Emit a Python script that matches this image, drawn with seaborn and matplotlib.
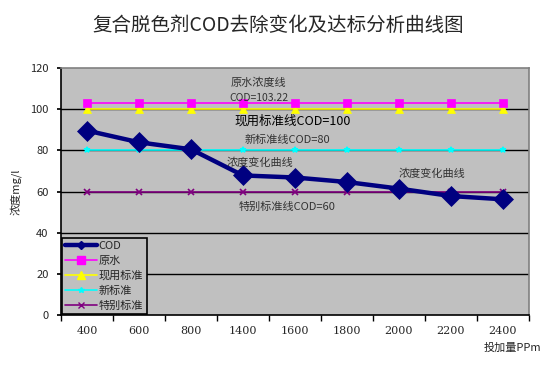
import numpy as np
import pandas as pd
import seaborn as sns
import matplotlib.pyplot as plt
from matplotlib.lines import Line2D

# data
doses = ["400", "600", "800", "1400", "1600", "1800", "2000", "2200", "2400"]
cod = [89.6, 83.9, 80.5, 67.8, 66.8, 64.6, 61.4, 57.8, 56.2]
raw_water = [103.22] * 9
current_std = [100] * 9
new_std = [80] * 9
special_std = [60] * 9

series_names = ["COD", "原水", "现用标准", "新标准", "特别标准"]
series_values = [cod, raw_water, current_std, new_std, special_std]

sns.set_theme(style="white")
plt.rcParams['font.family'] = ['Noto Sans CJK SC', 'DejaVu Sans']
plt.rcParams['axes.unicode_minus'] = False

# style per series: color, marker, markersize, linewidth
styles = {
    "COD": ("#000080", "D", 10, 3.2),
    "原水": ("#FF00FF", "s", 6, 1.2),
    "现用标准": ("#FFFF00", "^", 6, 1.2),
    "新标准": ("#00FFFF", "*", 4, 1.2),
    "特别标准": ("#800080", "x", 4, 1.2),
}

fig = plt.figure(figsize=(5.56, 3.67), dpi=100)
ax = fig.add_axes([0.1097, 0.1417, 0.8417, 0.673])
ax.set_facecolor("#C0C0C0")

pos = np.arange(len(doses))
for name, vals in reversed(list(zip(series_names, series_values))):
    c, m, ms, lw = styles[name]
    df = pd.DataFrame({"x": pos, "y": vals})
    sns.lineplot(data=df, x="x", y="y", ax=ax, color=c, marker=m, markersize=ms,
                 linewidth=lw, markeredgecolor=c, markeredgewidth=1.2 if m in "x*" else 0.5,
                 sort=False, zorder=3 if name == "COD" else 2, legend=False)

# gridlines
for yv in [20, 40, 60, 80, 100]:
    ax.axhline(yv, color="black", lw=1, zorder=1)

ax.set_xlim(-0.5, len(doses) - 0.5)
ax.set_ylim(0, 120)
ax.set_xticks(pos)
ax.set_xticklabels(doses, fontsize=8, family=['DejaVu Serif'])
ax.set_xticks(np.arange(-0.5, len(doses)), minor=True)
ax.tick_params(axis="x", which="major", length=0, pad=8)
ax.tick_params(axis="x", which="minor", length=4, direction="out", color="black", bottom=True)
ax.set_yticks(np.arange(0, 121, 20))
ax.set_yticklabels([str(v) for v in range(0, 121, 20)], fontsize=8)
ax.tick_params(axis="y", length=3, direction="out", color="black", left=True, pad=6)

for s in ["left", "bottom"]:
    ax.spines[s].set_color("black")
    ax.spines[s].set_linewidth(1.2)
for s in ["top", "right"]:
    ax.spines[s].set_color("#808080")
    ax.spines[s].set_linewidth(1.2)

ax.set_xlabel("")
ax.set_ylabel("浓度mg/l", fontsize=8, labelpad=6)

fig.text(0.5, 0.93, "复合脱色剂COD去除变化及达标分析曲线图", ha="center", va="center",
         fontsize=14, fontweight="medium")
fig.text(0.922, 0.052, "投加量PPm", ha="center", va="center", fontsize=8)

# annotations
ann_color = "#333333"
ax.text(3.3, 112.6, "原水浓度线", ha="center", va="center", fontsize=8, color=ann_color)
ax.text(3.3, 105.4, "COD=103.22", ha="center", va="center", fontsize=7.5, color=ann_color)
ax.text(3.95, 94.2, "现用标准线COD=100", ha="center", va="center", fontsize=9, color="black")
ax.text(3.85, 84.9, "新标准线COD=80", ha="center", va="center", fontsize=8, color=ann_color)
ax.text(3.32, 73.8, "浓度变化曲线", ha="center", va="center", fontsize=8, color=ann_color)
ax.text(6.64, 68.4, "浓度变化曲线", ha="center", va="center", fontsize=8, color=ann_color)
ax.text(3.85, 52.7, "特别标准线COD=60", ha="center", va="center", fontsize=8, color=ann_color)

handles = []
for name in series_names:
    c, m, ms, lw = styles[name]
    handles.append(Line2D([0], [0], color=c, marker=m, markersize=min(ms, 6) if name != "COD" else 4,
                          linewidth=lw, markeredgecolor=c))
leg = ax.legend(handles, series_names, loc="lower left", bbox_to_anchor=(0.0, 0.0),
                fontsize=8, frameon=True, fancybox=False, handlelength=2.8,
                borderaxespad=0.1, labelspacing=0.42, borderpad=0.3, handletextpad=0.2)
leg.get_frame().set_facecolor("#C0C0C0")
leg.get_frame().set_edgecolor("black")
leg.get_frame().set_linewidth(1.2)
leg.get_frame().set_alpha(1)

fig.savefig("out.png", dpi=100, facecolor="white")
